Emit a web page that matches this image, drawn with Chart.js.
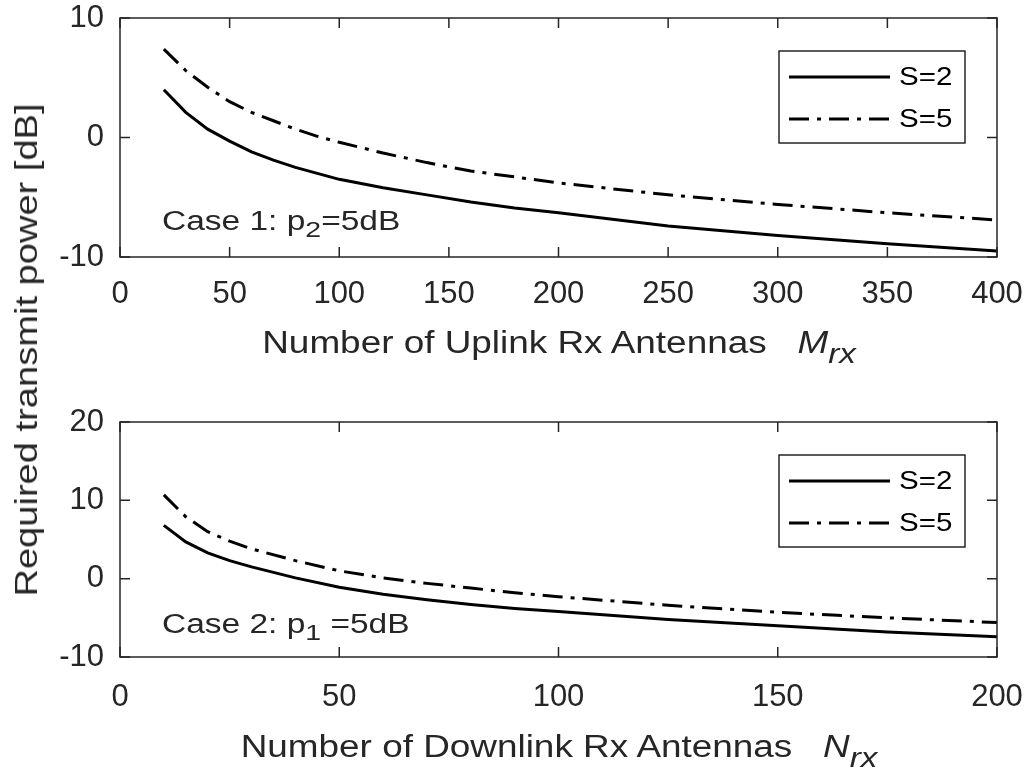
<!DOCTYPE html>
<html>
<head>
<meta charset="utf-8">
<script src="https://cdn.jsdelivr.net/npm/chart.js@4.4.1/dist/chart.umd.min.js"></script>
<style>
  body { margin: 0; background: #fff; width: 1031px; height: 780px; position: relative; overflow: hidden;
         font-family: "Liberation Sans", Arial, sans-serif; color: #262626; }
  .box { position: absolute; left: 0; width: 1031px; height: 390px; }
  .lbl { position: absolute; line-height: 1; white-space: nowrap; }
  .xt { left: 58.5px; width: 1000px; text-align: center; font-size: 31px; transform: scaleX(1.19); transform-origin: center; }
  .case { left: 162px; font-size: 27px; transform: scaleX(1.24); transform-origin: left; }
  .case sub { font-size: 0.85em; vertical-align: -0.32em; line-height: 0; }
  .xt sub { font-size: 0.9em; vertical-align: -0.35em; line-height: 0; font-style: italic; }
</style>
</head>
<body>
<div class="box" style="top:0"><canvas id="upChart"></canvas></div>
<div class="box" style="top:390px"><canvas id="downChart"></canvas></div>

<div class="lbl xt" style="top:327px">Number of Uplink Rx Antennas&nbsp;&nbsp;&nbsp;<i>M</i><sub>rx</sub></div>
<div class="lbl xt" style="top:731px">Number of Downlink Rx Antennas&nbsp;&nbsp;&nbsp;<i>N</i><sub>rx</sub></div>
<div class="lbl case" style="top:208px">Case 1: p<sub>2</sub>=5dB</div>
<div class="lbl case" style="top:611px">Case 2: p<sub>1</sub>&nbsp;=5dB</div>
<div class="lbl" style="left:-324px; top:334px; width:700px; height:32px; text-align:center; font-size:32px; transform:rotate(-90deg) scaleX(1.19); transform-origin:center;">Required transmit power [dB]</div>

<script>
// uplink (case 1)
const upAntennas = [20, 30, 40, 50, 60, 70, 80, 90, 100, 120, 140, 160, 180, 200, 250, 300, 350, 400];
const upS2 = [4.0, 2.1, 0.7, -0.3, -1.2, -1.9, -2.5, -3.0, -3.5, -4.2, -4.8, -5.4, -5.9, -6.3, -7.4, -8.2, -8.9, -9.5];
const upS5 = [7.4, 5.6, 4.2, 3.0, 2.1, 1.4, 0.7, 0.1, -0.4, -1.3, -2.1, -2.8, -3.3, -3.8, -4.8, -5.6, -6.3, -6.9];

// downlink (case 2)
const downAntennas = [10, 15, 20, 25, 30, 40, 50, 60, 70, 80, 90, 100, 125, 150, 175, 200];
const downS2 = [6.8, 4.7, 3.3, 2.3, 1.5, 0.1, -1.1, -2.0, -2.7, -3.3, -3.8, -4.2, -5.2, -6.0, -6.8, -7.4];
const downS5 = [10.7, 7.9, 6.0, 4.8, 3.8, 2.3, 1.0, 0.1, -0.6, -1.2, -1.8, -2.3, -3.4, -4.3, -5.0, -5.6];

const seriesLabels = ['S=2', 'S=5'];
const upXRange = [0, 400];
const upYRange = [-10, 10];
const downXRange = [0, 200];
const downYRange = [-10, 20];

const AXIS = '#262626';
const FONT = '"Liberation Sans", Arial, sans-serif';

// box with inward ticks on all four sides, matlab style
const framePlugin = {
    id: 'frame',
    afterDatasetsDraw(chart) {
        const ctx = chart.ctx, a = chart.chartArea;
        const x = chart.scales.x, y = chart.scales.y;
        ctx.save();
        ctx.strokeStyle = AXIS;
        ctx.lineWidth = 1.5;
        ctx.beginPath();
        x.ticks.forEach(function (t) {
            var px = x.getPixelForValue(t.value);
            ctx.moveTo(px, a.bottom); ctx.lineTo(px, a.bottom - 10);
            ctx.moveTo(px, a.top); ctx.lineTo(px, a.top + 10);
        });
        y.ticks.forEach(function (t) {
            var py = y.getPixelForValue(t.value);
            ctx.moveTo(a.left, py); ctx.lineTo(a.left + 10, py);
            ctx.moveTo(a.right, py); ctx.lineTo(a.right - 10, py);
        });
        ctx.stroke();
        ctx.strokeRect(a.left, a.top, a.right - a.left, a.bottom - a.top);
        ctx.restore();
    }
};

// legend box inside the plot, top right
const boxLegend = {
    id: 'boxLegend',
    afterDraw(chart, args, opts) {
        const ctx = chart.ctx, a = chart.chartArea;
        const left = a.right - opts.right - opts.width;
        const top = a.top + opts.top;
        ctx.save();
        ctx.fillStyle = '#fff';
        ctx.fillRect(left, top, opts.width, opts.height);
        ctx.strokeStyle = AXIS;
        ctx.lineWidth = 1.5;
        ctx.strokeRect(left, top, opts.width, opts.height);
        chart.data.datasets.forEach(function (ds, i) {
            var ly = top + 26 + i * 42;
            ctx.strokeStyle = ds.borderColor;
            ctx.lineWidth = ds.borderWidth;
            ctx.setLineDash(ds.borderDash || []);
            ctx.beginPath();
            ctx.moveTo(left + 10, ly);
            ctx.lineTo(left + 111, ly);
            ctx.stroke();
            ctx.setLineDash([]);
            ctx.save();
            ctx.translate(left + 120, ly);
            ctx.scale(1.18, 1);
            ctx.fillStyle = '#000';
            ctx.font = '25px ' + FONT;
            ctx.textBaseline = 'middle';
            ctx.fillText(ds.label, 0, 1);
            ctx.restore();
        });
        ctx.restore();
    }
};

function pts(xs, ys) {
    return xs.map(function (v, i) { return { x: v, y: ys[i] }; });
}

function makeChart(id, xs, s2, s5, xr, yr, padTop, xHeight, xTickPad) {
    return new Chart(document.getElementById(id), {
        type: 'line',
        data: {
            datasets: [
                { label: seriesLabels[0], data: pts(xs, s2), borderColor: '#000', borderWidth: 3, pointRadius: 0, tension: 0 },
                { label: seriesLabels[1], data: pts(xs, s5), borderColor: '#000', borderWidth: 3, borderDash: [20, 8, 4, 8], pointRadius: 0, tension: 0 }
            ]
        },
        options: {
            responsive: true,
            maintainAspectRatio: false,
            animation: false,
            layout: { padding: { left: 0, right: 34, top: padTop, bottom: 0 } },
            plugins: {
                legend: { display: false },
                tooltip: { enabled: false },
                boxLegend: { right: 32, top: 33, width: 186, height: 92 }
            },
            scales: {
                x: {
                    type: 'linear',
                    min: xr[0], max: xr[1],
                    grid: { display: false, drawTicks: false },
                    border: { display: false },
                    ticks: { stepSize: 50, color: AXIS, padding: xTickPad, maxRotation: 0,
                             font: { family: FONT, size: 31, lineHeight: 1 } },
                    afterFit: function (s) { s.height = xHeight; s.paddingLeft = 0; s.paddingRight = 0; }
                },
                y: {
                    min: yr[0], max: yr[1],
                    grid: { display: false, drawTicks: false },
                    border: { display: false },
                    ticks: { stepSize: 10, color: AXIS, padding: 16,
                             font: { family: FONT, size: 31, lineHeight: 1 } },
                    afterFit: function (s) { s.width = 120; s.paddingTop = 0; s.paddingBottom = 0; }
                }
            }
        },
        plugins: [framePlugin, boxLegend]
    });
}

makeChart('upChart', upAntennas, upS2, upS5, upXRange, upYRange, 18, 133, 22);
makeChart('downChart', downAntennas, downS2, downS5, downXRange, downYRange, 32, 123, 25);
</script>
</body>
</html>
